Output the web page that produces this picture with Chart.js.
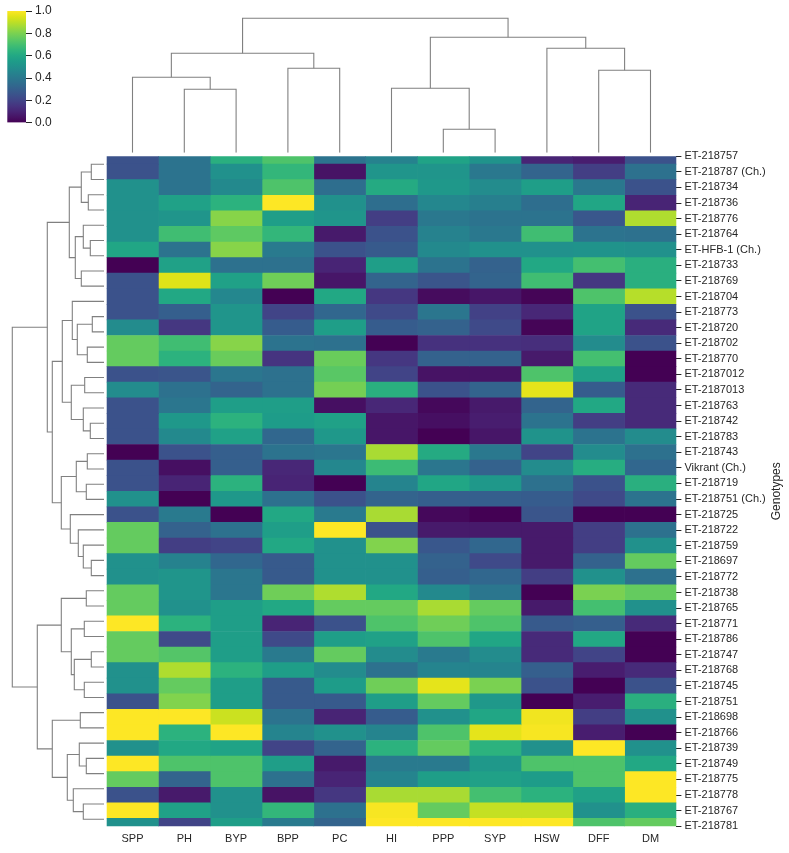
<!DOCTYPE html>
<html lang="en">
<head>
<meta charset="UTF-8" />
<title>Genotype clustermap</title>
<script src="https://cdn.jsdelivr.net/npm/chart.js"></script>
<style>
    body {
        margin: 0;
        background: #fff;
    }
    #wrap {
        position: relative;
        width: 789px;
        height: 853px;
    }
    canvas {
        position: absolute;
        left: 0;
        top: 0;
    }
</style>
</head>
<body>

<div id="wrap">
    <canvas id="heat" width="789" height="853"></canvas>
    <canvas id="rowTree" width="789" height="853"></canvas>
    <canvas id="colTree" width="789" height="853"></canvas>
    <canvas id="cbar" width="789" height="853"></canvas>
</div>

<script>
    // column order as shown (after clustering)
    const traits = ['SPP', 'PH', 'BYP', 'BPP', 'PC', 'HI', 'PPP', 'SYP', 'HSW', 'DFF', 'DM'];

    // row order as shown (after clustering)
    const genotypes = [
        'ET-218757', 'ET-218787 (Ch.)', 'ET-218734', 'ET-218736', 'ET-218776', 'ET-218764',
        'ET-HFB-1 (Ch.)', 'ET-218733', 'ET-218769', 'ET-218704', 'ET-218773', 'ET-218720',
        'ET-218702', 'ET-218770', 'ET-2187012', 'ET-2187013', 'ET-218763', 'ET-218742',
        'ET-218783', 'ET-218743', 'Vikrant (Ch.)', 'ET-218719', 'ET-218751 (Ch.)', 'ET-218725',
        'ET-218722', 'ET-218759', 'ET-218697', 'ET-218772', 'ET-218738', 'ET-218765',
        'ET-218771', 'ET-218786', 'ET-218747', 'ET-218768', 'ET-218745', 'ET-218751',
        'ET-218698', 'ET-218766', 'ET-218739', 'ET-218749', 'ET-218775', 'ET-218778',
        'ET-218767', 'ET-218781'
    ];

    // scaled scores, one row per genotype, columns in traits order
    const scores = [
        [0.25, 0.38, 0.63, 0.72, 0.38, 0.44, 0.58, 0.51, 0.10, 0.08, 0.25],
        [0.25, 0.38, 0.50, 0.66, 0.05, 0.52, 0.52, 0.40, 0.32, 0.18, 0.37],
        [0.50, 0.38, 0.47, 0.72, 0.36, 0.61, 0.53, 0.48, 0.56, 0.40, 0.25],
        [0.50, 0.57, 0.64, 1.00, 0.50, 0.36, 0.46, 0.43, 0.36, 0.59, 0.10],
        [0.50, 0.52, 0.82, 0.56, 0.52, 0.18, 0.40, 0.38, 0.38, 0.27, 0.88],
        [0.50, 0.69, 0.75, 0.66, 0.07, 0.25, 0.44, 0.40, 0.69, 0.38, 0.37],
        [0.59, 0.38, 0.82, 0.41, 0.25, 0.28, 0.47, 0.50, 0.50, 0.51, 0.50],
        [0.00, 0.57, 0.37, 0.37, 0.10, 0.56, 0.38, 0.31, 0.60, 0.70, 0.63],
        [0.25, 0.95, 0.57, 0.78, 0.06, 0.32, 0.26, 0.32, 0.69, 0.16, 0.63],
        [0.25, 0.60, 0.46, 0.00, 0.60, 0.16, 0.03, 0.06, 0.01, 0.72, 0.89],
        [0.25, 0.30, 0.52, 0.20, 0.33, 0.22, 0.39, 0.19, 0.11, 0.58, 0.25],
        [0.48, 0.16, 0.52, 0.29, 0.56, 0.29, 0.31, 0.22, 0.01, 0.58, 0.12],
        [0.76, 0.69, 0.82, 0.38, 0.37, 0.00, 0.14, 0.14, 0.13, 0.48, 0.25],
        [0.76, 0.64, 0.77, 0.15, 0.77, 0.16, 0.31, 0.31, 0.07, 0.70, 0.00],
        [0.25, 0.26, 0.39, 0.37, 0.74, 0.20, 0.05, 0.05, 0.72, 0.57, 0.00],
        [0.48, 0.37, 0.32, 0.37, 0.79, 0.63, 0.25, 0.32, 0.96, 0.29, 0.12],
        [0.25, 0.39, 0.56, 0.56, 0.04, 0.11, 0.02, 0.07, 0.32, 0.60, 0.12],
        [0.25, 0.53, 0.64, 0.55, 0.57, 0.06, 0.04, 0.08, 0.38, 0.18, 0.12],
        [0.25, 0.47, 0.57, 0.33, 0.53, 0.06, 0.00, 0.06, 0.51, 0.38, 0.48],
        [0.00, 0.25, 0.30, 0.38, 0.39, 0.87, 0.61, 0.40, 0.20, 0.48, 0.37],
        [0.25, 0.04, 0.30, 0.11, 0.46, 0.68, 0.39, 0.31, 0.48, 0.62, 0.33],
        [0.25, 0.10, 0.64, 0.10, 0.00, 0.45, 0.59, 0.53, 0.37, 0.25, 0.63],
        [0.50, 0.00, 0.53, 0.37, 0.25, 0.32, 0.30, 0.30, 0.29, 0.22, 0.38],
        [0.25, 0.41, 0.00, 0.60, 0.41, 0.87, 0.02, 0.00, 0.26, 0.00, 0.00],
        [0.76, 0.31, 0.37, 0.56, 1.00, 0.25, 0.07, 0.07, 0.07, 0.18, 0.37],
        [0.76, 0.18, 0.20, 0.60, 0.50, 0.81, 0.27, 0.33, 0.07, 0.18, 0.50],
        [0.50, 0.44, 0.33, 0.28, 0.50, 0.50, 0.31, 0.22, 0.07, 0.31, 0.76],
        [0.50, 0.52, 0.39, 0.28, 0.50, 0.50, 0.30, 0.33, 0.18, 0.50, 0.37],
        [0.76, 0.52, 0.39, 0.78, 0.88, 0.60, 0.47, 0.39, 0.00, 0.80, 0.76],
        [0.76, 0.50, 0.56, 0.60, 0.76, 0.76, 0.87, 0.76, 0.07, 0.70, 0.50],
        [1.00, 0.64, 0.56, 0.10, 0.25, 0.72, 0.78, 0.72, 0.28, 0.30, 0.12],
        [0.76, 0.22, 0.56, 0.22, 0.56, 0.57, 0.72, 0.59, 0.12, 0.60, 0.00],
        [0.76, 0.73, 0.56, 0.41, 0.76, 0.48, 0.41, 0.48, 0.12, 0.20, 0.00],
        [0.50, 0.88, 0.64, 0.56, 0.48, 0.37, 0.45, 0.45, 0.30, 0.08, 0.12],
        [0.50, 0.76, 0.56, 0.28, 0.55, 0.78, 0.96, 0.80, 0.25, 0.00, 0.25],
        [0.25, 0.81, 0.56, 0.28, 0.28, 0.56, 0.76, 0.53, 0.00, 0.08, 0.63],
        [1.00, 1.00, 0.92, 0.38, 0.10, 0.29, 0.50, 0.59, 0.98, 0.18, 0.50],
        [1.00, 0.64, 1.00, 0.45, 0.50, 0.45, 0.72, 0.96, 0.99, 0.08, 0.00],
        [0.50, 0.60, 0.58, 0.20, 0.32, 0.64, 0.76, 0.64, 0.50, 1.00, 0.50],
        [1.00, 0.72, 0.72, 0.56, 0.07, 0.41, 0.41, 0.53, 0.72, 0.72, 0.60],
        [0.76, 0.32, 0.72, 0.37, 0.10, 0.45, 0.56, 0.57, 0.55, 0.72, 1.00],
        [0.25, 0.07, 0.50, 0.05, 0.16, 0.87, 0.87, 0.70, 0.64, 0.57, 1.00],
        [1.00, 0.57, 0.50, 0.66, 0.37, 0.99, 0.76, 0.91, 0.91, 0.50, 0.63],
        [0.50, 0.20, 0.56, 0.41, 0.32, 1.00, 1.00, 1.00, 1.00, 0.72, 0.76]
    ];

    // linkage, scipy style: [childA, childB, distance]; ids >= n are earlier merges
    const colMerges = [
        [1, 2, 63.4], [0, 11, 75.4], [3, 4, 84.4], [12, 13, 99.4],
        [6, 7, 23.4], [5, 15, 64.4], [9, 10, 82.4], [8, 17, 104.4],
        [16, 18, 115.4], [14, 19, 134.4]
    ];

    const rowMerges = [
        [0, 1, 12.7], [2, 3, 15.7], [44, 45, 22.7], [5, 6, 13.7], [4, 47, 20.7],
        [7, 8, 22.7], [48, 49, 28.7], [46, 50, 34.7], [10, 11, 11.7], [12, 13, 16.7],
        [52, 53, 26.7], [9, 54, 31.7], [14, 15, 19.3], [17, 18, 13.7], [16, 57, 20.7],
        [56, 58, 32.7], [55, 59, 41.7], [19, 20, 16.7], [21, 22, 17.7], [61, 62, 27.7],
        [26, 27, 12.7], [25, 64, 20.7], [24, 65, 25.7], [23, 66, 33.7], [63, 67, 42.7],
        [60, 68, 51.7], [51, 69, 56.7], [28, 29, 17.7], [30, 31, 19.7], [32, 33, 12.7],
        [34, 35, 19.7], [73, 74, 29.7], [72, 75, 32.7], [71, 76, 42.7], [36, 37, 23.7],
        [39, 40, 17.7], [38, 79, 24.7], [42, 43, 20.7], [41, 81, 30.7], [80, 82, 36.7],
        [78, 83, 51.7], [77, 84, 66.7], [70, 85, 91.7]
    ];

    const cbarTicks = [0, 0.2, 0.4, 0.6, 0.8, 1.0];

    // viridis colormap samples
    const viridisStops = [
        '#440154', '#471365', '#482475', '#463480', '#414487', '#3b528b', '#355f8d',
        '#2f6c8e', '#2a788e', '#25848e', '#21918c', '#1e9c89', '#22a884', '#2fb47c',
        '#44bf70', '#5ec962', '#7ad151', '#9bd93c', '#bddf26', '#dfe318', '#fde725'
    ];

    function hexRgb(h) {
        return [1, 3, 5].map(i => parseInt(h.slice(i, i + 2), 16));
    }

    function viridis(v) {
        const n = viridisStops.length - 1;
        const t = Math.min(1, Math.max(0, v)) * n;
        const i = Math.min(Math.floor(t), n - 1);
        const f = t - i;
        const a = hexRgb(viridisStops[i]);
        const b = hexRgb(viridisStops[i + 1]);
        const c = a.map((x, k) => Math.round(x + (b[k] - x) * f));
        return `rgb(${c[0]}, ${c[1]}, ${c[2]})`;
    }

    // turn a linkage into U-shaped links of [position, height] points
    function dendroLinks(merges, nLeaves) {
        const pos = [];
        const height = [];
        for (let i = 0; i < nLeaves; i++) {
            pos.push(i + 0.5);
            height.push(0);
        }
        const links = [];
        merges.forEach(([a, b, d]) => {
            links.push([[pos[a], height[a]], [pos[a], d], [pos[b], d], [pos[b], height[b]]]);
            pos.push((pos[a] + pos[b]) / 2);
            height.push(d);
        });
        return links;
    }

    Chart.defaults.font.family = '"Liberation Sans", Arial, sans-serif';
    Chart.defaults.font.size = 11;
    Chart.defaults.color = '#262626';

    const W = 789, H = 853;
    const heatLeft = 106.6, heatRight = 676.4;
    const heatTop = 156.3, heatBottom = 826.2;
    const tickFont = { size: 11 };
    const treeLine = { showLine: true, borderColor: '#808080', borderWidth: 1.1, pointRadius: 0 };
    const noPlugins = { legend: { display: false }, tooltip: { enabled: false } };

    const yTitle = {
        id: 'yTitle',
        afterDraw(chart) {
            const { ctx, chartArea } = chart;
            ctx.save();
            ctx.translate(776.5, (chartArea.top + chartArea.bottom) / 2);
            ctx.rotate(-Math.PI / 2);
            ctx.font = '12px "Liberation Sans", Arial, sans-serif';
            ctx.fillStyle = '#262626';
            ctx.textAlign = 'center';
            ctx.textBaseline = 'middle';
            ctx.fillText('Genotypes', 0, 0);
            ctx.restore();
        }
    };

    // heatmap: one floating bar per cell
    new Chart(document.getElementById('heat'), {
        type: 'bar',
        data: {
            labels: genotypes,
            datasets: traits.map((t, c) => ({
                label: t,
                data: genotypes.map(() => [c, c + 1]),
                backgroundColor: scores.map(row => viridis(row[c])),
                barPercentage: 1,
                categoryPercentage: 1,
                borderWidth: 0,
                grouped: false,
                clip: 0
            }))
        },
        options: {
            indexAxis: 'y',
            responsive: false,
            animation: false,
            layout: { padding: { left: heatLeft, top: heatTop, right: 0, bottom: 0 } },
            plugins: noPlugins,
            scales: {
                x: {
                    type: 'linear',
                    position: 'bottom',
                    min: 0,
                    max: traits.length,
                    afterBuildTicks: s => { s.ticks = traits.map((_, i) => ({ value: i + 0.5 })); },
                    afterFit: s => { s.height = H - heatBottom; },
                    ticks: {
                        callback: (v, i) => traits[i],
                        font: tickFont,
                        padding: 6,
                        maxRotation: 0,
                        autoSkip: false
                    },
                    grid: { display: false, drawTicks: false },
                    border: { display: false }
                },
                y: {
                    type: 'category',
                    position: 'right',
                    offset: false,
                    afterFit: s => { s.width = W - heatRight; },
                    ticks: { font: tickFont, padding: 3, autoSkip: false },
                    grid: { offset: false, drawOnChartArea: false, tickLength: 5, color: '#262626' },
                    border: { display: false }
                }
            }
        },
        plugins: [yTitle]
    });

    // row dendrogram on the left
    new Chart(document.getElementById('rowTree'), {
        type: 'scatter',
        data: {
            datasets: dendroLinks(rowMerges, genotypes.length).map(l => ({
                data: l.map(([p, h]) => ({ x: h, y: p })),
                ...treeLine
            }))
        },
        options: {
            responsive: false,
            animation: false,
            layout: { padding: { left: 7.7, right: W - 104, top: 156.7, bottom: H - 826.9 } },
            plugins: noPlugins,
            scales: {
                x: { display: false, min: 0, max: 91.7 * 1.05, reverse: true },
                y: { display: false, min: 0, max: genotypes.length, reverse: true }
            }
        }
    });

    // column dendrogram on top
    new Chart(document.getElementById('colTree'), {
        type: 'scatter',
        data: {
            datasets: dendroLinks(colMerges, traits.length).map(l => ({
                data: l.map(([p, h]) => ({ x: p, y: h })),
                ...treeLine
            }))
        },
        options: {
            responsive: false,
            animation: false,
            layout: { padding: { left: heatLeft, right: W - heatRight, top: 11.6, bottom: H - 152.7 } },
            plugins: noPlugins,
            scales: {
                x: { display: false, min: 0, max: traits.length },
                y: { display: false, min: 0, max: 134.4 * 1.05 }
            }
        }
    });

    // colour bar
    new Chart(document.getElementById('cbar'), {
        type: 'bar',
        data: {
            labels: [''],
            datasets: [{
                data: [[0, 1]],
                barPercentage: 1,
                categoryPercentage: 1,
                borderWidth: 0,
                backgroundColor: ctx => {
                    const area = ctx.chart.chartArea;
                    if (!area) return viridis(0.5);
                    const g = ctx.chart.ctx.createLinearGradient(0, area.bottom, 0, area.top);
                    viridisStops.forEach((c, i) => g.addColorStop(i / (viridisStops.length - 1), c));
                    return g;
                }
            }]
        },
        options: {
            responsive: false,
            animation: false,
            layout: { padding: { left: 7.3, top: 11, bottom: H - 122.7, right: 0 } },
            plugins: noPlugins,
            scales: {
                x: { display: false },
                y: {
                    position: 'right',
                    min: 0,
                    max: 1,
                    afterFit: s => { s.width = W - 26; },
                    afterBuildTicks: s => { s.ticks = cbarTicks.map(v => ({ value: v })); },
                    ticks: { callback: v => v.toFixed(1), font: { size: 12 }, padding: 3 },
                    grid: { drawOnChartArea: false, tickLength: 6, color: '#262626' },
                    border: { display: false }
                }
            }
        }
    });
</script>

</body>
</html>
